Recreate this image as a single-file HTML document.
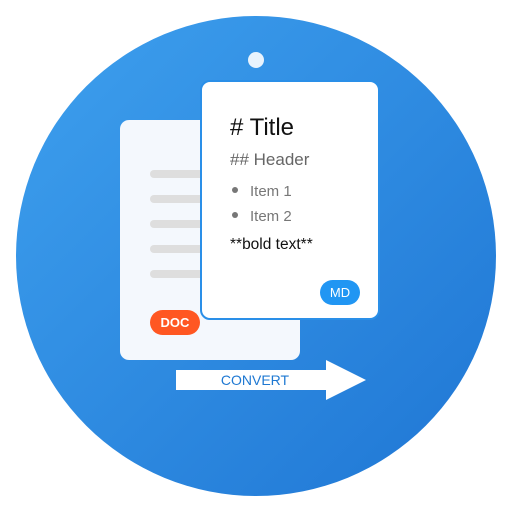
<!DOCTYPE html>
<html><head><style>html,body{margin:0;padding:0;background:#fff}</style></head><body>
<svg width="512" height="512" viewBox="0 0 512 512" xmlns="http://www.w3.org/2000/svg" font-family="Liberation Sans, sans-serif">
<defs><linearGradient id="g" x1="0" y1="0" x2="1" y2="1"><stop offset="0" stop-color="#3ea0ee"/><stop offset="1" stop-color="#1f76d4"/></linearGradient></defs>
<circle cx="256" cy="256" r="240" fill="url(#g)"/>
<circle cx="256" cy="60" r="8" fill="#e8f3fd"/>
<rect x="120" y="120" width="180" height="240" rx="9" fill="#f4f8fd"/>
<g fill="#dedede"><rect x="150" y="170" width="60" height="8" rx="4"/><rect x="150" y="195" width="60" height="8" rx="4"/><rect x="150" y="220" width="60" height="8" rx="4"/><rect x="150" y="245" width="60" height="8" rx="4"/><rect x="150" y="270" width="60" height="8" rx="4"/></g>
<rect x="150" y="310" width="50" height="25" rx="12.5" fill="#ff5722"/>
<text x="175" y="327" font-size="13" font-weight="bold" fill="#fff" text-anchor="middle">DOC</text>
<rect x="201" y="81" width="178" height="238" rx="9" fill="#fff" stroke="#2a8fe8" stroke-width="2"/>
<text x="230" y="135" font-size="24" fill="#111"># Title</text>
<text x="230" y="165" font-size="17" fill="#666">## Header</text>
<circle cx="235" cy="190" r="3" fill="#777"/><circle cx="235" cy="215" r="3" fill="#777"/>
<text x="250" y="196" font-size="15" fill="#777">Item 1</text>
<text x="250" y="221" font-size="15" fill="#777">Item 2</text>
<text x="230" y="249" font-size="15.5" fill="#111">**bold text**</text>
<rect x="320" y="280" width="40" height="25" rx="12.5" fill="#2196f3"/>
<text x="340" y="297" font-size="13" fill="#fff" text-anchor="middle">MD</text>
<polygon points="176,370 326,370 326,360 366,380 326,400 326,390 176,390" fill="#fff"/>
<text x="255" y="385" font-size="14" fill="#1e78d2" text-anchor="middle">CONVERT</text>
</svg>
</body></html>
